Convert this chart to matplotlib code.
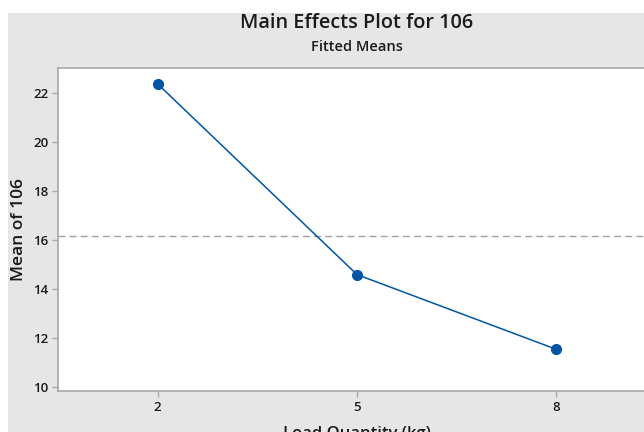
import matplotlib
matplotlib.use("Agg")
import matplotlib.pyplot as plt
from matplotlib.patches import Rectangle
import numpy as np

categories = ["2", "5", "8"]
means = [22.38, 14.60, 11.55]
overall_mean = float(np.mean(means))
yticks = [10, 12, 14, 16, 18, 20, 22]

plt.rcParams['font.family'] = ['Open Sans', 'DejaVu Sans']

W, H = 644, 432
fig = plt.figure(figsize=(W/100, H/100), dpi=100, facecolor='white')
fig.patches.append(Rectangle((8/W, 0), 1, 1 - 13/H, transform=fig.transFigure,
                             facecolor='#e6e6e6', edgecolor='none', zorder=-10))

left, right, top, bottom = 58, 656, 68, 391
ax = fig.add_axes([left/W, 1 - bottom/H, (right-left)/W, (bottom-top)/H])
ax.set_facecolor('white')

x = np.arange(len(categories))
ax.axhline(overall_mean, color='#a0a0a0', linestyle=(0, (5, 3)), linewidth=1, zorder=1)
ax.plot(x, means, color='#0054a6', linewidth=1.1, marker='o', markersize=7,
        markerfacecolor='#0054a6', markeredgecolor='#0054a6', zorder=3)

ax.set_xlim(-0.5, 2.5)
ax.set_ylim(9.85, 23.03)
ax.set_xticks(x)
ax.set_xticklabels(categories)
ax.set_yticks(yticks)

for s in ax.spines.values():
    s.set_color('#a8a8a8')
    s.set_linewidth(1.2)
ax.tick_params(axis='both', colors='#a8a8a8', length=4, width=1, labelsize=9.5,
               labelcolor='#1a1a1a', pad=3)
for lab in ax.get_xticklabels() + ax.get_yticklabels():
    lab.set_fontweight('semibold')

ax.set_ylabel("Mean of 106", fontsize=12.5, fontweight='semibold', color='#1a1a1a', labelpad=4)
ax.set_xlabel("Load Quantity (kg)", fontsize=12, fontweight='semibold', color='#1a1a1a', labelpad=9)

cx = (left + right) / 2 / W
fig.text(cx, 1 - 23/H, "Main Effects Plot for 106", ha='center', va='center',
         fontsize=14.3, fontweight='semibold', color='#1a1a1a')
fig.text(cx, 1 - 47/H, "Fitted Means", ha='center', va='center',
         fontsize=10.5, fontweight='semibold', color='#1a1a1a')

fig.savefig("out.png", dpi=100, facecolor=fig.get_facecolor())
